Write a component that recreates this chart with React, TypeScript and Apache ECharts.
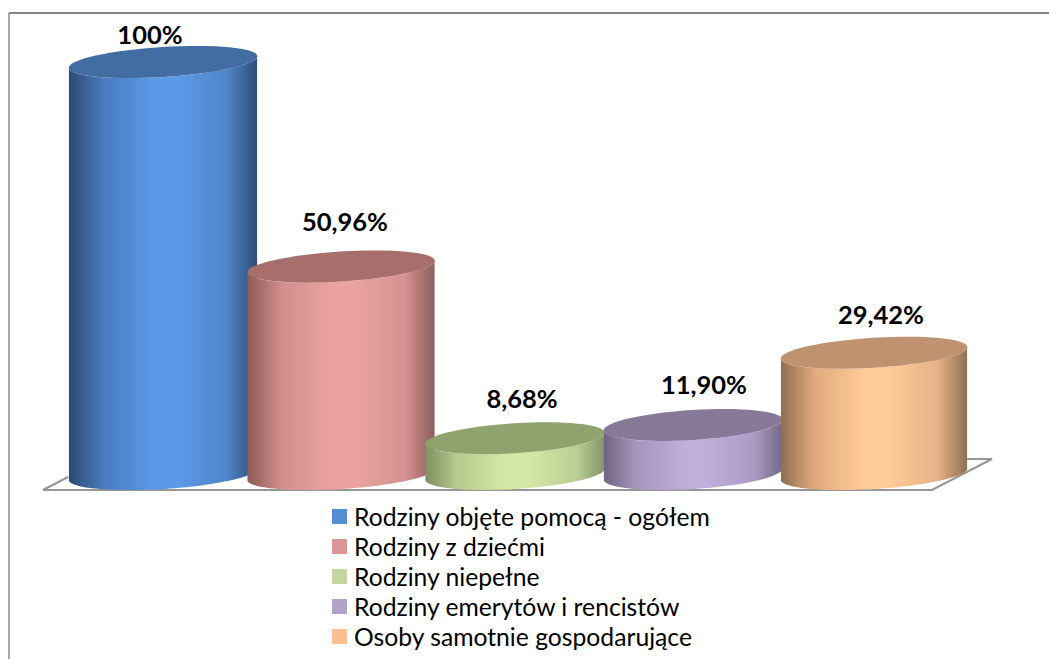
import React, { useEffect, useRef } from "react";
import * as echarts from "echarts";

const categories = [
  "Rodziny objęte pomocą - ogółem",
  "Rodziny z dziećmi",
  "Rodziny niepełne",
  "Rodziny emerytów i rencistów",
  "Osoby samotnie gospodarujące",
];
const values = [100, 50.96, 8.68, 11.9, 29.42];
const valueLabels = ["100%", "50,96%", "8,68%", "11,90%", "29,42%"];
const legendColors = ["#558ed5", "#d99694", "#c3d69b", "#b3a2c7", "#fac090"];
const topColors = ["#426da3", "#a76e6c", "#8fa36e", "#877a99", "#bf9270"];
const sideStops = [
  ["#2d4a70", "#4a7bbd", "#5b9ae8", "#4f84c8", "#2f4d74"],
  ["#8a5a58", "#d08e8c", "#eba3a1", "#d49290", "#8a5e5c"],
  ["#7f8f63", "#b8cb8f", "#d4e7a4", "#bccf94", "#83936a"],
  ["#6f6482", "#a596bd", "#c1aedb", "#ab9bc4", "#756a88"],
  ["#8f6d4e", "#e0aa7c", "#ffcb98", "#e6b287", "#8f6f52"],
];
const nudgesX = [0, 0, -4, -4, -1];
const nudgesY = [0, 2.5, 0, 0, 0];
const halfWidths = [94.5, 94, 90, 89.5, 93.5];
const labelDx = [-13, 4, 7, 11, 7];
const labelDy = [-28, -46, -40, -41, -39];
const tilt = (3.6 * Math.PI) / 180;
const radiusY = 15;

function ellipsePoint(cx: number, cy: number, rx: number, t: number) {
  const c = Math.cos(t);
  const s = Math.sin(t);
  return [
    cx + rx * c * Math.cos(tilt) + radiusY * s * Math.sin(tilt),
    cy - rx * c * Math.sin(tilt) + radiusY * s * Math.cos(tilt),
  ];
}

function arcPoints(cx: number, cy: number, rx: number, from: number, to: number) {
  const pts: number[][] = [];
  const n = 64;
  for (let i = 0; i <= n; i++) {
    pts.push(ellipsePoint(cx, cy, rx, from + ((to - from) * i) / n));
  }
  return pts;
}

function makeRender(index: number) {
  return (_params: any, api: any) => {
    const top = api.coord([api.value(0), api.value(1)]);
    const base = api.coord([api.value(0), 0]);
    const cx = top[0] + nudgesX[index];
    const cy = top[1] + nudgesY[index];
    const rx = halfWidths[index];
    const stops = sideStops[index];
    const topFront = arcPoints(cx, cy, rx, -tilt, Math.PI - tilt);
    const baseFront = arcPoints(cx, base[1], rx, Math.PI - tilt, -tilt);
    return {
      type: "group",
      children: [
        {
          type: "polygon",
          shape: { points: [...topFront, ...baseFront] },
          style: {
            fill: new echarts.graphic.LinearGradient(0, 0, 1, 0, [
              { offset: 0, color: stops[0] },
              { offset: 0.18, color: stops[1] },
              { offset: 0.45, color: stops[2] },
              { offset: 0.58, color: stops[2] },
              { offset: 0.84, color: stops[3] },
              { offset: 1, color: stops[4] },
            ]),
          },
        },
        {
          type: "polygon",
          shape: { points: arcPoints(cx, cy, rx, 0, Math.PI * 2) },
          style: { fill: topColors[index] },
        },
        {
          type: "text",
          style: {
            text: valueLabels[index],
            x: cx + labelDx[index],
            y: cy + labelDy[index],
            align: "center",
            verticalAlign: "middle",
            fill: "#000",
            font: "bold 25.5px Lato",
          },
        },
      ],
    };
  };
}

export default function App() {
  const ref = useRef<HTMLDivElement>(null);
  useEffect(() => {
    const chart = echarts.init(ref.current!, null, { renderer: "svg" });
    chart.setOption({
      animation: false,
      backgroundColor: "#fff",
      textStyle: { fontFamily: "Lato" },
      grid: { left: 74, width: 890, top: 62, height: 412 },
      xAxis: { type: "category", data: categories, show: false },
      yAxis: { type: "value", min: 0, max: 100, show: false },
      legend: {
        orient: "vertical",
        left: 327,
        top: 499,
        icon: "rect",
        itemWidth: 15,
        itemHeight: 15,
        itemGap: 5,
        data: categories,
        textStyle: { fontSize: 24.7, color: "#000", fontFamily: "Lato", padding: [0, 0, 0, 2] },
        selectedMode: false,
      },
      graphic: [
        {
          type: "line",
          shape: { x1: 9, y1: 13, x2: 9, y2: 659 },
          style: { stroke: "#a6a6a6", lineWidth: 2 },
        },
        {
          type: "line",
          shape: { x1: 9, y1: 13, x2: 1049, y2: 13 },
          style: { stroke: "#868686", lineWidth: 2 },
        },
        {
          type: "polyline",
          shape: { points: [[68, 477], [43, 490], [932, 490], [992, 459], [967, 459]] },
          style: { stroke: "#969696", lineWidth: 2, fill: "none" },
        },
      ],
      series: categories.map((name, i) => ({
        type: "custom",
        name,
        clip: false,
        itemStyle: { color: legendColors[i] },
        data: [[i, values[i]]],
        renderItem: makeRender(i),
      })),
    });
    return () => chart.dispose();
  }, []);
  return (
    <div
      ref={ref}
      style={{ position: "absolute", left: 0, top: 0, width: 1049, height: 659 }}
    />
  );
}
